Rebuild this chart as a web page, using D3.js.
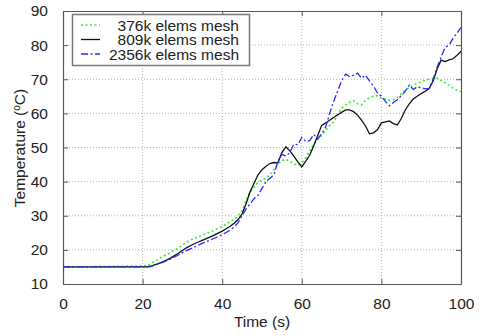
<!DOCTYPE html>
<html><head><meta charset="utf-8">
<script src="https://cdn.jsdelivr.net/npm/d3@7"></script>
<style>body{margin:0;background:#fff}svg{display:block}text{font-family:"Liberation Sans",Arial,sans-serif;fill:#222}</style>
</head><body>
<svg id="c" width="481" height="336"></svg>
<script>
const time = [0,10,20,21,22,23,24,25,26,27,28,29,30,31,32,33,34,35,36,37,38,39,40,41,42,43,44,45,46,47,48,49,50,51,52,53,54,55,56,57,58,59,60,61,62,63,64,65,66,67,68,69,70,71,72,73,74,75,76,77,78,79,80,81,82,83,84,85,86,87,88,89,90,91,92,93,94,95,96,97,98,99,100];
const mesh376 = [15,15.1,15.3,15.4,15.8,16.6,17.4,18.0,18.6,19.2,19.9,20.6,21.4,22.2,22.9,23.4,23.9,24.3,24.8,25.3,25.8,26.3,26.9,27.5,28.2,29.0,29.9,31.5,34.5,37.0,38.3,39.8,40.5,41.0,42.0,43.5,45.2,46.2,46.5,46.0,45.2,44.8,45.5,47.0,49.0,51.0,52.5,53.5,55.0,56.5,57.5,59.5,61.5,62.5,63.2,63.7,62.8,62.5,63.8,64.5,65.0,65.2,64.5,64.2,63.8,64.0,64.6,65.8,66.8,67.6,68.3,68.8,69.3,69.7,70.0,70.2,70.3,69.6,69.0,68.2,67.4,66.8,66.3];
const mesh809 = [15,15,15,15.05,15.2,15.6,16.0,16.5,17.0,17.6,18.3,19.0,19.8,20.6,21.2,21.8,22.3,22.8,23.3,23.8,24.3,24.9,25.5,26.2,26.9,27.8,28.9,30.5,33.5,37.0,39.5,42.0,43.5,44.5,45.3,45.6,45.5,48.5,50.2,49.0,47.5,45.8,44.3,46.0,47.8,50.5,53.5,56.5,57.2,58.0,58.8,59.6,60.3,61.0,61.0,60.5,59.5,58.0,56.3,54.0,54.3,55.2,57.2,57.5,57.8,57.0,56.6,58.5,61.0,62.8,64.2,65.0,65.8,66.5,67.3,69.5,73.0,75.6,75.2,75.7,76.0,77.0,78.2];
const mesh2356 = [15,15,15,15,15.1,15.5,15.9,16.3,16.8,17.3,17.9,18.5,19.2,19.8,20.3,20.8,21.4,21.9,22.4,22.9,23.4,23.9,24.5,25.1,25.8,26.7,28.0,30.0,32.0,33.5,35.0,36.0,38.0,40.0,41.0,42.0,46.0,48.0,47.5,48.5,51.0,50.8,53.0,51.8,52.0,53.8,52.5,54.0,56.0,60.0,63.5,66.5,69.5,71.5,70.8,71.2,71.8,70.3,71.2,69.5,68.0,66.0,65.0,63.5,62.2,63.2,64.0,65.2,66.5,68.3,67.0,67.8,67.5,67.2,67.3,70.0,73.5,76.5,79.3,80.0,82.0,83.5,85.2];
const seriesNames = ["376k elems mesh","809k elems mesh","2356k elems mesh"];
const xTicks = [0,20,40,60,80,100];
const yTicks = [10,20,30,40,50,60,70,80,90];

const svg = d3.select("#c");
const L=63,R=461,T=11,B=284;
const x = d3.scaleLinear().domain([0,100]).range([L,R]);
const y = d3.scaleLinear().domain([10,90]).range([B,T]);
const fs = "15.5px";

// grid
const g = svg.append("g");
g.selectAll(".gx").data(xTicks.slice(1,-1)).join("line")
  .attr("x1",d=>x(d)).attr("x2",d=>x(d)).attr("y1",T).attr("y2",B)
  .attr("stroke","#b0b0b0").attr("stroke-width",1).attr("stroke-dasharray","1,2");
g.selectAll(".gy").data(yTicks.slice(1,-1)).join("line")
  .attr("x1",L).attr("x2",R).attr("y1",d=>y(d)).attr("y2",d=>y(d))
  .attr("stroke","#b0b0b0").attr("stroke-width",1).attr("stroke-dasharray","1,2");

// axes with inward ticks (mirrored)
const axB = svg.append("g").attr("transform",`translate(0,${B})`)
  .call(d3.axisBottom(x).tickValues(xTicks).tickSizeInner(-5).tickSizeOuter(0).tickPadding(14));
const axL = svg.append("g").attr("transform",`translate(${L},0)`)
  .call(d3.axisLeft(y).tickValues(yTicks).tickSizeInner(-5).tickSizeOuter(0).tickPadding(15));
const axT = svg.append("g").attr("transform",`translate(0,${T})`)
  .call(d3.axisTop(x).tickValues(xTicks).tickSizeInner(-5).tickSizeOuter(0).tickFormat(""));
const axR = svg.append("g").attr("transform",`translate(${R},0)`)
  .call(d3.axisRight(y).tickValues(yTicks).tickSizeInner(-5).tickSizeOuter(0).tickFormat(""));
[axB,axL,axT,axR].forEach(a=>{
  a.selectAll("path").attr("stroke","#555").attr("stroke-width",1.2);
  a.selectAll("line").attr("stroke","#555");
  a.selectAll("text").style("font-size",fs).style("font-family","Liberation Sans, Arial, sans-serif").attr("fill","#222");
});

// lines
const colors = ["#33ee33","#111111","#2a2aff"];
const dashes = ["2,2.5",null,"7,2.5,2,2.5"];
const widths = [1.6,1.3,1.3];
const data = [mesh376,mesh809,mesh2356];
const line = d3.line().x((d,i)=>x(time[i])).y(d=>y(d));
const clip = svg.append("clipPath").attr("id","cp").append("rect").attr("x",L).attr("y",T).attr("width",R-L).attr("height",B-T);
data.forEach((s,k)=>{
  svg.append("path").datum(s).attr("d",line).attr("fill","none")
    .attr("stroke",colors[k]).attr("stroke-width",widths[k])
    .attr("stroke-dasharray",dashes[k]).attr("clip-path","url(#cp)");
});

// legend
const lg = svg.append("g");
lg.append("rect").attr("x",72.5).attr("y",14.5).attr("width",177).attr("height",51)
  .attr("fill","#fff").attr("stroke","#777").attr("stroke-width",1.5);
seriesNames.forEach((n,k)=>{
  const cy = 25 + k*14.5;
  lg.append("line").attr("x1",81).attr("x2",100).attr("y1",cy).attr("y2",cy)
    .attr("stroke",colors[k]).attr("stroke-width",widths[k]).attr("stroke-dasharray",dashes[k]);
  lg.append("text").attr("x",239).attr("y",cy+5.5).attr("text-anchor","end").style("font-size",fs).text(n);
});

// axis labels
svg.append("text").attr("x",262).attr("y",327).attr("text-anchor","middle").style("font-size",fs).text("Time (s)");
const yl = svg.append("text").attr("transform","translate(25,148) rotate(-90)").attr("text-anchor","middle").style("font-size",fs);
yl.append("tspan").text("Temperature (");
yl.append("tspan").attr("dy",-5).style("font-size","10px").text("o");
yl.append("tspan").attr("dy",5).text("C)");
</script>
</body></html>
